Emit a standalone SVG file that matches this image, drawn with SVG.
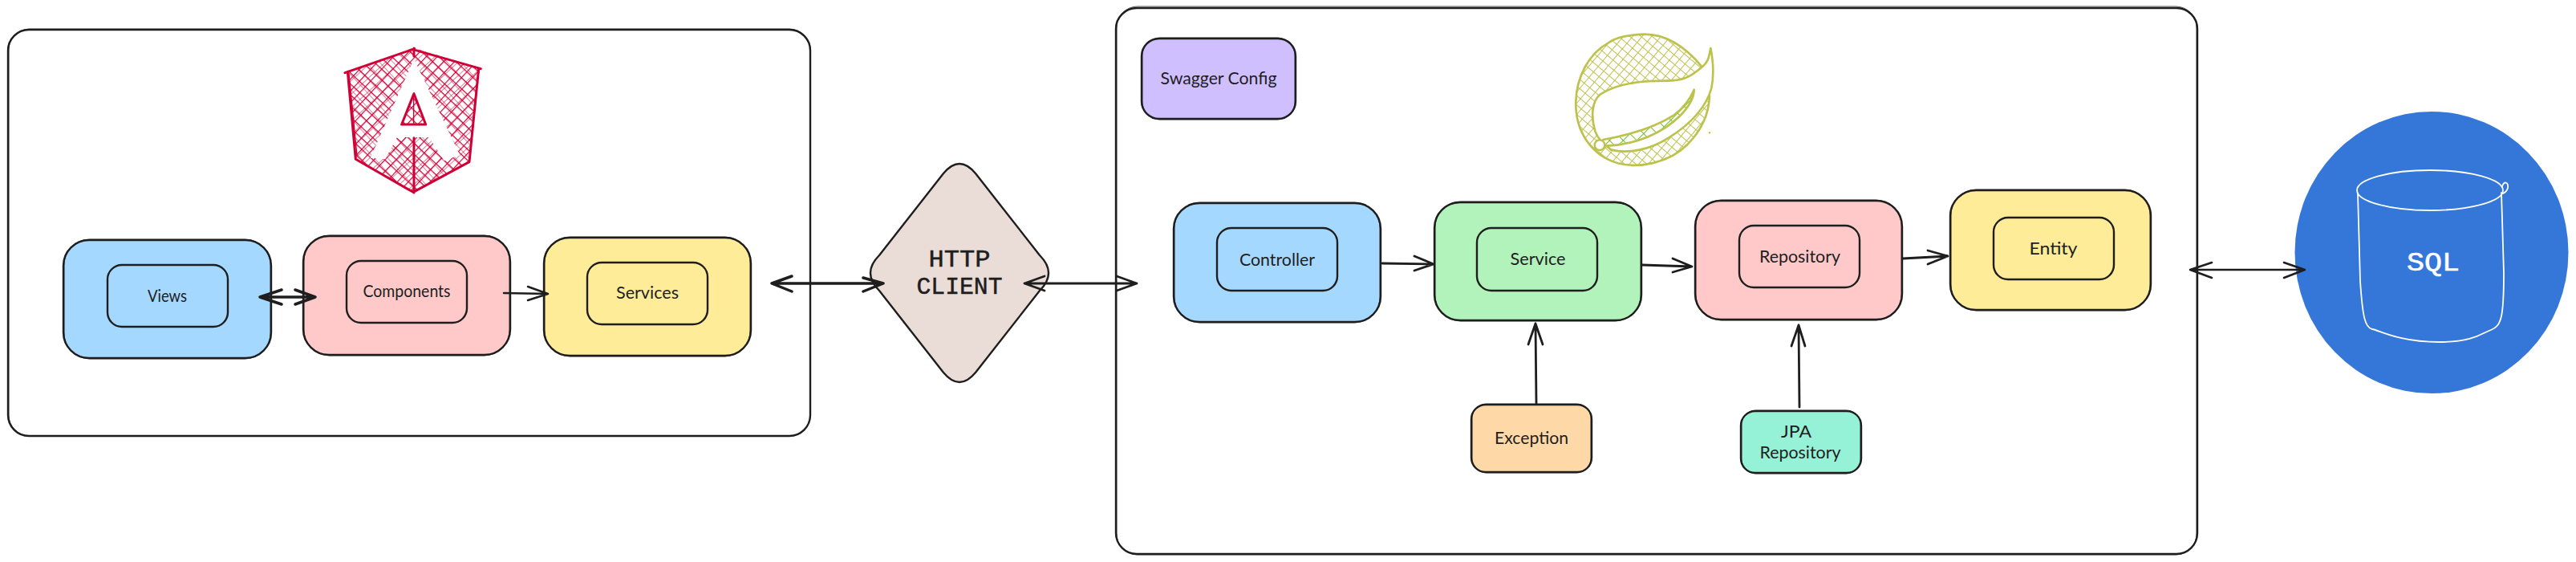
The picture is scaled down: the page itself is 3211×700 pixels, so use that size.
<svg xmlns="http://www.w3.org/2000/svg" width="3211" height="700" viewBox="0 0 3211 700">
<style>
.o{stroke:#1e1e1e;stroke-width:2.4;stroke-linejoin:round}
.r{fill:none;stroke:#1e1e1e;stroke-width:1;opacity:.75}
.t{font-family:"Lato","Open Sans",sans-serif;font-size:21px;fill:#1e1e1e;text-anchor:middle}
.h{font-family:"Liberation Mono",monospace;font-size:29px;fill:#1e1e1e;stroke:#1e1e1e;stroke-width:.5;text-anchor:middle}
.a{fill:none;stroke:#1e1e1e;stroke-linecap:round;stroke-linejoin:round}
.ng{stroke:#cf0036;fill:none;stroke-linejoin:round;stroke-linecap:round}
.sg{stroke:#bdc24c;fill:none;stroke-linejoin:round;stroke-linecap:round}
</style>
<defs>
<pattern id="hA" width="30" height="30" patternUnits="userSpaceOnUse" patternTransform="rotate(43)">
<path d="M0 0H30M0 0V30" stroke="#cf0036" stroke-width="7" fill="none"/>
</pattern>
<pattern id="hB" width="37" height="37" patternUnits="userSpaceOnUse" patternTransform="rotate(47)">
<path d="M0 0H37M0 0V37" stroke="#cf0036" stroke-width="3" fill="none"/>
</pattern>
<pattern id="hS" width="27" height="27" patternUnits="userSpaceOnUse" patternTransform="rotate(40)">
<path d="M0 0H27M0 0V27" stroke="#bdc24c" stroke-width="6" fill="none"/>
</pattern>
<pattern id="hG" width="36" height="36" patternUnits="userSpaceOnUse" patternTransform="rotate(45)">
<path d="M0 0H36M0 0V36" stroke="#6cc01e" stroke-width="6" fill="none"/>
</pattern>
</defs>

<g id="frame-angular">
<rect class="o" x="10" y="37" width="1000" height="506" rx="26" fill="#fff"/>
<rect class="r" x="11" y="36" width="999" height="507" rx="26"/>
</g>
<g id="frame-spring">
<rect class="o" x="1391" y="10" width="1348" height="680" rx="26" fill="#fff"/>
<rect class="r" x="1392" y="8" width="1346" height="683" rx="26"/>
</g>

<g id="logo-angular" transform="translate(390 60) scale(.3333)">
<path d="M380 0L130 88L160 415L375 540L585 425L625 75Z" fill="url(#hA)"/>
<path d="M380 0L130 88L160 415L375 540L585 425L625 75Z" fill="url(#hB)"/>
<path d="M378 40L215 410L270 415L315 333H435L490 420L550 400Z" fill="#fff"/>
<path d="M378 170L332 285H422Z" fill="url(#hA)"/>
<path class="ng" stroke-width="9" d="M380 2L120 92M130 88L160 415L375 538L585 425L620 78M385 8L628 77M378 0V30M378 335V540M378 170L332 285H422Z"/>
<path class="ng" stroke-width="4" d="M377 175V282M135 95L165 400"/>
</g>

<g id="logo-spring" transform="translate(1930 30) scale(.3333)">
<path d="M575 160C500 70 430 38 360 38C300 40 250 50 225 70C150 110 105 200 103 290C100 400 160 490 260 520C340 540 450 520 520 450C570 400 600 340 603 270L618 190L607 90C600 130 595 145 575 160Z" fill="url(#hS)"/>
<path d="M575 160C530 200 500 212 440 212C370 212 270 215 195 262C160 290 160 350 175 400C185 430 205 445 235 465C300 485 380 470 450 425C530 375 590 310 610 240C620 190 615 130 607 90C600 130 595 145 575 160Z" fill="#fff"/>
<path d="M205 432C300 415 400 385 470 340C510 310 530 280 545 245C545 280 520 315 490 345C430 405 330 450 220 455Z" fill="url(#hG)"/>
<path class="sg" stroke-width="8" d="M575 160C500 70 430 38 360 38C300 40 250 50 225 70C150 110 105 200 103 290C100 400 160 490 260 520C340 540 450 520 520 450C570 400 600 340 603 270"/>
<path class="sg" stroke-width="8" d="M575 160C530 200 500 212 440 212C370 212 270 215 195 262C160 290 160 350 175 400C185 430 205 445 235 470C300 485 380 470 450 425C530 375 590 310 610 240C620 190 615 130 607 90C600 130 595 145 575 160Z"/>
<path class="sg" stroke-width="8" d="M205 432C300 415 400 385 470 340C510 310 530 280 545 245C545 280 520 315 490 345C430 405 330 450 220 455"/>
<circle cx="192" cy="452" r="19" fill="#fff" stroke="#bdc24c" stroke-width="7"/>
<circle cx="603" cy="406" r="3.500" fill="#f5a623"/>
</g>

<g id="node-views">
<rect class="o" x="79" y="299" width="259" height="147" rx="32" fill="#a5d8ff"/><rect class="r" x="80" y="298" width="257" height="149" rx="32"/>
<rect class="o" x="134" y="330" width="150" height="77" rx="18" fill="#a5d8ff"/>
<text class="t" x="208.500" y="376" textLength="49" lengthAdjust="spacingAndGlyphs">Views</text>
</g>
<g id="node-components">
<rect class="o" x="378" y="294" width="258" height="148" rx="32" fill="#ffc9c9"/><rect class="r" x="379" y="293" width="256" height="150" rx="32"/>
<rect class="o" x="432" y="325" width="150" height="77" rx="18" fill="#ffc9c9"/>
<text class="t" x="507" y="370" textLength="109" lengthAdjust="spacingAndGlyphs">Components</text>
</g>
<g id="node-services">
<rect class="o" x="678" y="296" width="258" height="147" rx="32" fill="#ffec99"/><rect class="r" x="679" y="295" width="256" height="149" rx="32"/>
<rect class="o" x="732" y="327" width="150" height="77" rx="18" fill="#ffec99"/>
<text class="t" x="807" y="372" textLength="78" lengthAdjust="spacingAndGlyphs">Services</text>
</g>
<g id="node-http">
<path class="o" d="M1176 216Q1196 192 1216 216L1296 318Q1318 340 1296 362L1216 464Q1196 488 1176 464L1096 362Q1074 340 1096 318Z" fill="#eaddd7"/>
<text class="h" x="1196" y="332" textLength="77" lengthAdjust="spacingAndGlyphs">HTTP</text>
<text class="h" x="1196" y="366" textLength="107" lengthAdjust="spacingAndGlyphs">CLIENT</text>
</g>
<g id="node-swagger">
<rect class="o" x="1423" y="48" width="192" height="100" rx="22" fill="#d0bfff"/><rect class="r" x="1424" y="47" width="190" height="102" rx="22"/>
<text class="t" x="1519" y="105" textLength="145" lengthAdjust="spacingAndGlyphs">Swagger Config</text>
</g>
<g id="node-controller">
<rect class="o" x="1463" y="253" width="258" height="148" rx="32" fill="#a5d8ff"/><rect class="r" x="1464" y="252" width="256" height="150" rx="32"/>
<rect class="o" x="1517" y="284" width="150" height="78" rx="18" fill="#a5d8ff"/>
<text class="t" x="1592" y="331" textLength="94" lengthAdjust="spacingAndGlyphs">Controller</text>
</g>
<g id="node-service">
<rect class="o" x="1788" y="252" width="258" height="147" rx="32" fill="#b2f2bb"/><rect class="r" x="1789" y="251" width="256" height="149" rx="32"/>
<rect class="o" x="1841" y="284" width="150" height="78" rx="18" fill="#b2f2bb"/>
<text class="t" x="1917" y="330" textLength="69" lengthAdjust="spacingAndGlyphs">Service</text>
</g>
<g id="node-repository">
<rect class="o" x="2113" y="250" width="258" height="148" rx="32" fill="#ffc9c9"/><rect class="r" x="2114" y="249" width="256" height="150" rx="32"/>
<rect class="o" x="2168" y="281" width="150" height="77" rx="18" fill="#ffc9c9"/>
<text class="t" x="2243.500" y="327" textLength="101" lengthAdjust="spacingAndGlyphs">Repository</text>
</g>
<g id="node-entity">
<rect class="o" x="2431" y="237" width="250" height="149" rx="32" fill="#ffec99"/><rect class="r" x="2432" y="236" width="248" height="151" rx="32"/>
<rect class="o" x="2485" y="271" width="150" height="77" rx="18" fill="#ffec99"/>
<text class="t" x="2559.500" y="317" textLength="60" lengthAdjust="spacingAndGlyphs">Entity</text>
</g>
<g id="node-exception">
<rect class="o" x="1834" y="504" width="150" height="84" rx="18" fill="#ffd8a8"/><rect class="r" x="1835" y="503" width="148" height="86" rx="18"/>
<text class="t" x="1909" y="553" textLength="92" lengthAdjust="spacingAndGlyphs">Exception</text>
</g>
<g id="node-jpa">
<rect class="o" x="2170" y="512" width="150" height="77" rx="18" fill="#96f2d7"/><rect class="r" x="2171" y="511" width="148" height="79" rx="18"/>
<text class="t" x="2239" y="545" textLength="38" lengthAdjust="spacingAndGlyphs">JPA</text>
<text class="t" x="2244" y="571" textLength="101" lengthAdjust="spacingAndGlyphs">Repository</text>
</g>
<g id="node-sql">
<ellipse cx="3031" cy="314.500" rx="170.500" ry="175.500" fill="#3577d9"/>
<g fill="none" stroke="#fff" stroke-width="1.800" stroke-linecap="round">
<ellipse cx="3029" cy="237" rx="91" ry="25"/>
<path d="M2939 241L2942 350C2945 395 2948 408 2957 410C2965 411 2990 426 3040 426C3085 426 3095 414 3105 411C3118 406 3121 395 3121 340L3118 240"/>
<path d="M3119 232C3122 224 3127 228 3126 234C3125 238 3122 240 3120 241"/>
</g>
<text x="3033" y="337" font-family="'Liberation Mono',monospace" font-size="34" fill="#fff" stroke="#fff" stroke-width=".6" text-anchor="middle" textLength="66" lengthAdjust="spacingAndGlyphs">SQL</text>
</g>

<g id="connectors">
<g class="a" stroke-width="3.500">
<path d="M324 370H393M351 361L324 370L351 379M368 361L393 370L368 379"/>
<path d="M962 353H1101M987 344L962 353L987 363M1076 346L1101 353L1076 363"/>
</g>
<path class="a" stroke-width="2.500" d="M628 365L683 366M658 357L683 366L658 374"/>
<path class="a" stroke-width="2.800" d="M1277 353H1417M1302 344L1277 353L1302 362M1392 344L1417 353L1392 362"/>
<path class="a" stroke-width="2.800" d="M1723 328L1787 329M1763 319L1787 329L1763 337"/>
<path class="a" stroke-width="2.800" d="M2047 330L2109 332M2085 322L2109 332L2085 339"/>
<path class="a" stroke-width="2.800" d="M2372 322L2428 319M2403 312L2428 319L2403 329"/>
<path class="a" stroke-width="2.800" d="M2243 507L2242 405M2233 431L2242 405L2250 431"/>
<path class="a" stroke-width="2.800" d="M1915 502L1914 403M1905 429L1914 403L1923 429"/>
<path class="a" stroke-width="2.500" d="M2730 336H2873M2757 327L2730 336L2757 346M2847 327L2873 336L2847 346"/>
</g>
</svg>
